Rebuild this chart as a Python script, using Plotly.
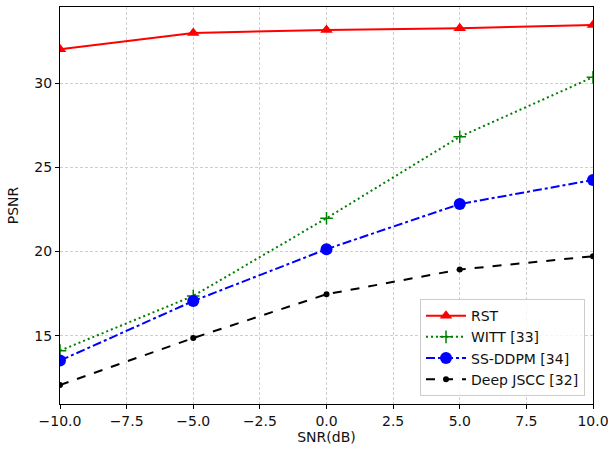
import plotly.graph_objects as go

snr = [-10, -5, 0, 5, 10]
rst = [32.02, 32.99, 33.17, 33.27, 33.46]
witt = [14.11, 17.36, 21.98, 26.82, 30.36]
ssddpm = [13.52, 17.06, 20.14, 22.82, 24.25]
deepjscc = [12.07, 14.86, 17.46, 18.93, 19.72]

xticks = [-10, -7.5, -5, -2.5, 0, 2.5, 5, 7.5, 10]
xticklabels = ["\u221210.0", "\u22127.5", "\u22125.0", "\u22122.5", "0.0", "2.5", "5.0", "7.5", "10.0"]
yticks = [15, 20, 25, 30]

fig = go.Figure()
fig.add_trace(go.Scatter(x=snr, y=rst, name="RST", mode="lines+markers",
                         line=dict(color="#ff0000", width=2),
                         marker=dict(symbol="triangle-up", size=11, color="#ff0000")))
fig.add_trace(go.Scatter(x=snr, y=witt, name="WITT [33]", mode="lines+markers",
                         line=dict(color="#008000", width=2, dash="2px,3px"),
                         marker=dict(symbol="cross-thin", size=9, line=dict(color="#008000", width=1.5), color="#008000")))
fig.add_trace(go.Scatter(x=snr, y=ssddpm, name="SS-DDPM [34]", mode="lines+markers",
                         line=dict(color="#0000ff", width=2, dash="dashdot"),
                         marker=dict(symbol="circle", size=12, color="#0000ff")))
fig.add_trace(go.Scatter(x=snr, y=deepjscc, name="Deep JSCC [32]", mode="lines+markers",
                         line=dict(color="#000000", width=2, dash="dash"),
                         marker=dict(symbol="circle", size=6, color="#000000")))

axis_common = dict(showline=True, linecolor="black", linewidth=1, mirror=True,
                   ticks="outside", ticklen=4, tickcolor="black", automargin=False,
                   ticklabeloverflow="allow",
                   showgrid=True, gridcolor="#cfcfcf", griddash="3px,2px", gridwidth=0.8,
                   zeroline=False, tickfont=dict(size=14, color="#111"))

fig.update_layout(
    width=608, height=451,
    margin=dict(l=60, r=15, t=7, b=47),
    paper_bgcolor="white", plot_bgcolor="white",
    font=dict(family="DejaVu Sans", size=14, color="#111"),
    showlegend=True,
    legend=dict(x=0.985, y=0.02, xanchor="right", yanchor="bottom",
                bgcolor="rgba(255,255,255,0.8)", bordercolor="#cccccc", borderwidth=1,
                font=dict(size=14), itemwidth=40, tracegroupgap=0),
)
fig.update_xaxes(range=[-10, 10], tickvals=xticks, ticktext=xticklabels,
                 title=dict(text="SNR(dB)", standoff=4, font=dict(size=14)), **axis_common)
fig.update_yaxes(range=[10.94, 34.53], tickvals=yticks,
                 title=dict(text="PSNR", standoff=12, font=dict(size=14)), **axis_common)

fig.write_html("out.html", config={"displayModeBar": False},
               post_script="document.body.style.margin='0';document.body.style.overflow='hidden';")
